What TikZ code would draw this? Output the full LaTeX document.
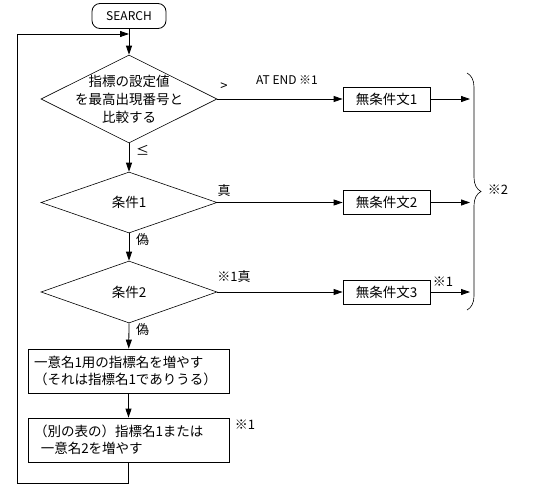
\documentclass[tikz,border=0pt]{standalone}
\usepackage{fontspec}
\setmainfont{Noto Sans CJK JP}
\usetikzlibrary{shapes.geometric, arrows.meta, decorations.pathreplacing}

\tikzset{
	flow/.style={-{Triangle[length=9pt,width=6pt]}, line width=0.8pt},
	cond/.style={diamond, draw, line width=0.6pt, inner sep=0pt, minimum width=176pt},
	ctext/.style={inner sep=0pt, align=center, font=\fontsize{13.5}{18}\selectfont},
	proc/.style={rectangle, draw, line width=0.8pt, minimum width=87pt, minimum height=24pt, inner sep=0pt, font=\fontsize{13.5}{16}\selectfont},
	act/.style={rectangle, draw, line width=0.8pt, minimum width=201pt, minimum height=44pt, inner sep=5pt, align=left, text width=189pt, font=\fontsize{13.5}{17.5}\selectfont},
	term/.style={rectangle, rounded corners=8pt, draw, line width=0.8pt, minimum width=74pt, minimum height=25pt, inner sep=0pt, font=\fontsize{12}{14}\selectfont},
	lbl/.style={inner sep=0pt, font=\fontsize{13}{15}\selectfont}
}

\begin{document}
\begin{tikzpicture}[x=1pt, y=-1pt]
	\useasboundingbox (0,0) rectangle (545,501);
	
	% Начало и условия
	\node[term] (search) at (129,16) {SEARCH};
	\node[cond, minimum height=88pt] (d1) at (129,99) {};
	\node[cond, minimum height=61pt] (d2) at (129,202.5) {};
	\node[cond, minimum height=62pt] (d3) at (129,292) {};
	\node[ctext] (d1t) at (d1) {指標の設定値\\を最高出現番号と\\比較する};
	\node[ctext] (d2t) at (d2) {条件1};
	\node[ctext] (d3t) at (d3) {条件2};
	
	% Безусловные операторы справа
	\node[proc] (s1) at (386.5,99) {無条件文1};
	\node[proc] (s2) at (386.5,202.5) {無条件文2};
	\node[proc] (s3) at (386.5,292) {無条件文3};
	
	% Действия внизу
	\node[act] (a1) at (128.5,371) {一意名1用の指標名を増やす\\（それは指標名1でありうる）};
	\node[act] (a2) at (128.5,440) {（別の表の）指標名1または\\\hspace{0.5em}一意名2を増やす};
	
	% Точки для цикла и скобки
	\coordinate (join) at (129,34);
	\coordinate (lpb) at (17,483);
	\coordinate (lpt) at (17,34);
	\coordinate (e1) at (470,99);
	\coordinate (e2) at (470,202.5);
	\coordinate (e3) at (470,292);
	
	% Стрелки
	\draw[flow] (search) -- (d1.north);
	\draw[flow] (d1.south) -- (d2.north);
	\draw[flow] (d2.south) -- (d3.north);
	\draw[flow] (d3.south) -- (a1);
	\draw[flow] (a1) -- (a2);
	\draw[flow] (d1.east) -- (s1);
	\draw[flow] (d2.east) -- (s2);
	\draw[flow] (d3.east) -- (s3);
	\draw[flow] (s1) -- (e1);
	\draw[flow] (s2) -- (e2);
	\draw[flow] (s3) -- (e3);
	\draw[flow] (a2.south) -- (a2.south |- lpb) -- (lpb) -- (lpt) -- (join);
	
	% Скобка
	\draw[line width=0.6pt, decorate, decoration={brace, amplitude=14pt}] (467,73) -- (467,310);
	
	% Подписи
	\node[lbl, anchor=west] (le) at (136,150) {≤};
	\node[lbl, anchor=west] (f1) at (136,240) {偽};
	\node[lbl, anchor=west] (f2) at (136,330) {偽};
	\node[lbl] (gt) at (224,87) {>};
	\node[lbl, font=\fontsize{12}{14}\selectfont] (atend) at (287,80) {AT END ※1};
	\node[lbl] (t1) at (224,191) {真};
	\node[lbl] (t2) at (234,277) {※1真};
	\node[lbl] (n3) at (443,282) {※1};
	\node[lbl] (n4) at (245,425) {※1};
	\node[lbl] (n2) at (498,190) {※2};
\end{tikzpicture}
\end{document}
